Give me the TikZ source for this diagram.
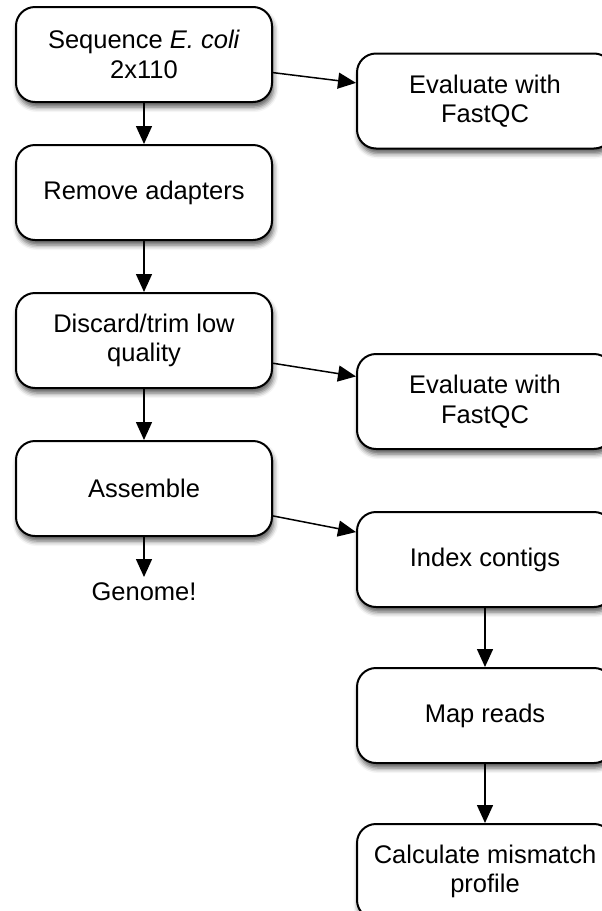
\documentclass[tikz,border=0pt]{standalone}
\usepackage{fontspec}
\setmainfont{Liberation Sans}
\usetikzlibrary{positioning,arrows.meta,shadows.blur}

\begin{document}
\begin{tikzpicture}[x=1pt,y=1pt,->,>={Triangle[length=18pt,width=16pt]},line width=1.5pt,
    blocco/.style={draw,fill=white,rounded corners=19pt,line width=2pt,
      minimum width=256pt,minimum height=95pt,align=center,
      font=\fontsize{25.5}{29.5}\selectfont,
      blur shadow={shadow xshift=1.5pt,shadow yshift=-5pt,shadow blur radius=5pt,shadow opacity=65}},
    node distance=51pt]
        \useasboundingbox (0,0) rectangle (602,-911);
        % blocchi a sinistra
        \node[blocco] (seq) at (144,-54.5)  {Sequence \textit{E. coli}\\2x110};
        \node[blocco] (rem) [below=41pt of seq] {Remove adapters};
        \node[blocco] (trim) [below=of rem]     {Discard/trim low\\quality};
        \node[blocco] (asm) [below=of trim]     {Assemble};
        \node[font=\fontsize{25.5}{29.5}\selectfont,inner sep=5pt] (gen) [below=40pt of asm] {Genome!};
        % blocchi a destra
        \node[blocco] (qcA) [right=83pt of seq, yshift=-46.5pt]  {Evaluate with\\FastQC};
        \node[blocco] (qcB) [right=83pt of trim, yshift=-61pt]   {Evaluate with\\FastQC};
        \node[blocco] (idx) [right=83pt of asm, yshift=-71pt]    {Index contigs};
        \node[blocco] (map) [below=59pt of idx]                  {Map reads};
        \node[blocco] (mis) [below=59pt of map]                  {Calculate mismatch\\profile};
        % frecce
        \path
            (seq) edge (rem)
            (rem) edge (trim)
            (trim) edge (asm)
            (asm) edge (gen)
            (seq.-8.7)  edge (qcA.172.9)
            (trim.-10.6) edge (qcB.169.8)
            (asm.-12.3) edge (idx.168)
            (idx) edge (map)
            (map) edge (mis);
\end{tikzpicture}
\end{document}
